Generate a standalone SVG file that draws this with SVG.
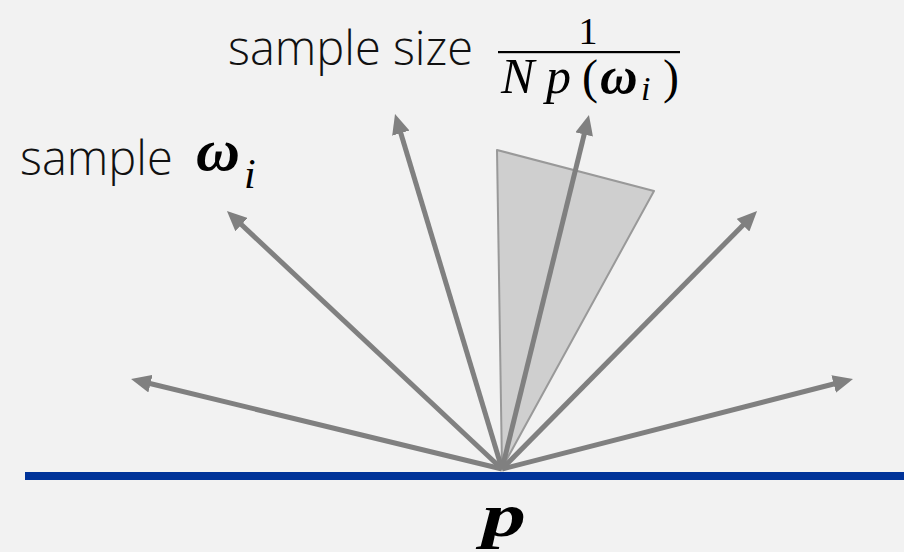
<svg xmlns="http://www.w3.org/2000/svg" width="904" height="552" viewBox="0 0 904 552">
<style>
.lbl{font-family:"Open Sans","Liberation Sans",sans-serif;font-weight:300;font-size:47px;fill:#111}
.m{font-family:"Liberation Serif","DejaVu Serif",serif;fill:#000}
.it{font-style:italic}
.bi{font-style:italic;font-weight:bold}
.arr{stroke:#808080;stroke-width:5;fill:none;marker-end:url(#ah)}
</style>
<defs>
<marker id="ah" viewBox="0 0 20 18" refX="8" refY="9" markerWidth="20" markerHeight="18" markerUnits="userSpaceOnUse" orient="auto">
<path d="M0,0 L20,9 L0,18 z" fill="#808080"/>
</marker>
</defs>
<rect width="904" height="552" fill="#f2f2f2"/>
<g id="cone">
<polygon points="497,150 654,191 502,468" fill="#cfcfcf" stroke="#999" stroke-width="2" stroke-linejoin="round"/>
</g>
<g id="connectors">
<line class="arr" x1="502" y1="469" x2="142.7" y2="381.8"/>
<line class="arr" x1="502" y1="469" x2="235.7" y2="219.2"/>
<line class="arr" x1="502" y1="469" x2="398.5" y2="125.5"/>
<line class="arr" x1="502" y1="469" x2="586.1" y2="126.7"/>
<line class="arr" x1="502" y1="469" x2="748.6" y2="219.5"/>
<line class="arr" x1="502" y1="469" x2="841.4" y2="382"/>
</g>
<g id="surface">
<rect x="25" y="472" width="879" height="8" fill="#003399"/>
</g>
<g id="label-size">
<text class="lbl" x="228" y="65">sample size</text>
<text class="m" x="588" y="44" font-size="38" text-anchor="middle">1</text>
<rect x="498" y="51" width="182" height="2.2" fill="#000"/>
<text class="m" y="93" font-size="50"><tspan class="it" x="501">N</tspan><tspan class="it" x="546">p</tspan><tspan x="582" font-size="48">(</tspan><tspan class="bi" x="600" font-size="52">ω</tspan><tspan class="it" x="641" y="100" font-size="34">i</tspan><tspan x="663" y="93" font-size="48">)</tspan></text>
</g>
<g id="label-sample">
<text class="m" y="170"><tspan class="bi" x="196" font-size="60" textLength="44" lengthAdjust="spacingAndGlyphs">ω</tspan><tspan class="it" x="244" y="188" font-size="42">i</tspan></text>
<text class="lbl" x="20" y="175">sample</text>
</g>
<g id="label-p">
<text class="m bi" x="482" y="536" font-size="62" textLength="44" lengthAdjust="spacingAndGlyphs">p</text>
</g>
</svg>
